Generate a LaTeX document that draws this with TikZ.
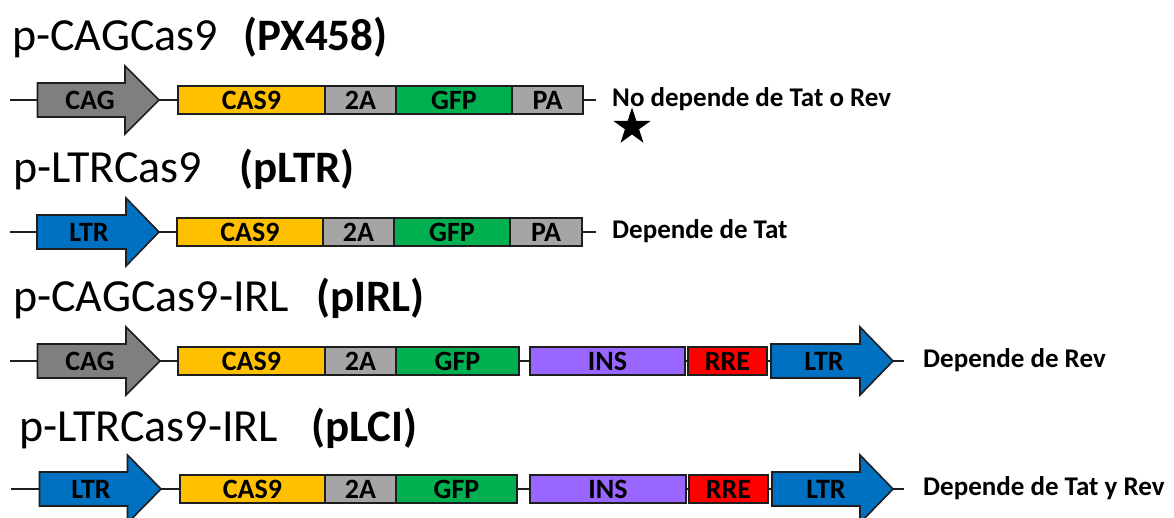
\documentclass[tikz,border=0pt]{standalone}
\usepackage{fontspec}
\setmainfont{Carlito}
\usetikzlibrary{shapes.geometric}

\definecolor{cagGray}{HTML}{7F7F7F}
\definecolor{partGray}{HTML}{A5A5A5}
\definecolor{casGold}{HTML}{FFC000}
\definecolor{gfpGreen}{HTML}{00B050}
\definecolor{insPurple}{HTML}{9966FF}
\definecolor{rreRed}{HTML}{FF0000}
\definecolor{ltrBlue}{HTML}{0070C0}
\definecolor{edge}{HTML}{1E1E1E}

% promoter arrow: name, left x, head x, tip x, axis y, fill
\newcommand\geneArrow[6]{%
  \draw[partline, fill=#6] (#2,#5-17) -- (#3,#5-17) -- (#3,#5-34) -- (#4,#5)
    -- (#3,#5+34) -- (#3,#5+17) -- (#2,#5+17) -- cycle;
  \coordinate (#1-w) at (#2,#5);
  \coordinate (#1-e) at (#4,#5);}

\tikzset{
  partline/.style={draw=edge, line width=1.6pt, line join=miter},
  backbone/.style={draw=edge, line width=1.5pt},
  part/.style={partline, rectangle, anchor=west, minimum height=28pt,
    inner sep=0pt, outer sep=0pt, font=\fontsize{28}{30}\selectfont\bfseries},
  plbl/.style={inner sep=0pt, font=\fontsize{28}{30}\selectfont\bfseries},
  title/.style={anchor=base west, inner sep=0pt, font=\fontsize{46}{50}\selectfont},
  tag/.style={anchor=base west, inner sep=0pt, font=\fontsize{45}{48}\selectfont\bfseries},
  note/.style={anchor=base west, inner sep=0pt, font=\fontsize{27}{30}\selectfont\bfseries},
}

\begin{document}
\begin{tikzpicture}[x=1pt, y=-1pt]
\useasboundingbox (0,0) rectangle (1174,518);

% ---------- p-CAGCas9 (PX458) ----------
\node[title] (t1) at (12,51) {p-CAGCas9};
\node[tag] (g1) at (243,51) {(PX458)};
\coordinate (s1) at (10,100);
\coordinate (e1) at (596,100);
\draw[backbone] (s1) -- (37,100);
\draw[backbone] (159,100) -- (178,100);
\draw[backbone] (583,100) -- (e1);
\geneArrow{cag1}{37.5}{125}{159}{100}{cagGray}
\node[plbl] (cagl1) at (90,100) {CAG};
\node[part, fill=casGold, minimum width=147pt] (cas1) at (178,100) {CAS9};
\node[part, fill=partGray, minimum width=71pt] (ta1) at (cas1.east) {2A};
\node[part, fill=gfpGreen, minimum width=116pt] (gfp1) at (ta1.east) {GFP};
\node[part, fill=partGray, minimum width=71pt] (pa1) at (gfp1.east) {PA};
\node[note] (n1) at (612,106.5) {No depende de Tat o Rev};
\node[star, star points=5, star point ratio=2.618, fill=black, draw=none,
  minimum size=39pt, inner sep=0pt] (star) at (632,127) {};

% ---------- p-LTRCas9 (pLTR) ----------
\node[title] (t2) at (13,183) {p-LTRCas9};
\node[tag] (g2) at (239,183) {(pLTR)};
\coordinate (s2) at (10,232);
\coordinate (e2) at (596,232);
\draw[backbone] (s2) -- (37,232);
\draw[backbone] (159,232) -- (178,232);
\draw[backbone] (583,232) -- (e2);
\geneArrow{ltr2}{37}{126}{159}{232}{ltrBlue}
\node[plbl] (ltrl2) at (89,232) {LTR};
\node[part, fill=casGold, minimum width=146pt] (cas2) at (177,232) {CAS9};
\node[part, fill=partGray, minimum width=71pt] (ta2) at (cas2.east) {2A};
\node[part, fill=gfpGreen, minimum width=116pt] (gfp2) at (ta2.east) {GFP};
\node[part, fill=partGray, minimum width=72pt] (pa2) at (gfp2.east) {PA};
\node[note] (n2) at (612,238.5) {Depende de Tat};

% ---------- p-CAGCas9-IRL (pIRL) ----------
\node[title] (t3) at (13,312) {p-CAGCas9-IRL};
\node[tag] (g3) at (316,312) {(pIRL)};
\coordinate (s3) at (10,361);
\coordinate (e3) at (904,361);
\draw[backbone] (s3) -- (37,361);
\draw[backbone] (160,361) -- (178,361);
\draw[backbone] (519,361) -- (530,361);
\draw[backbone] (685,361) -- (688,361);
\draw[backbone] (767,361) -- (771,361);
\draw[backbone] (893,361) -- (e3);
\geneArrow{cag3}{37.5}{126}{160}{361}{cagGray}
\node[plbl] (cagl3) at (90,361) {CAG};
\node[part, fill=casGold, minimum width=147pt] (cas3) at (178,361) {CAS9};
\node[part, fill=partGray, minimum width=71pt] (ta3) at (cas3.east) {2A};
\node[part, fill=gfpGreen, minimum width=123pt] (gfp3) at (ta3.east) {GFP};
\node[part, fill=insPurple, minimum width=155pt] (ins3) at (530,361) {INS};
\node[part, fill=rreRed, minimum width=79pt] (rre3) at (688,361) {RRE};
\geneArrow{ltr3}{771}{860}{893}{361}{ltrBlue}
\node[plbl] (ltrl3) at (824,361) {LTR};
\node[note] (n3) at (923,367.5) {Depende de Rev};

% ---------- p-LTRCas9-IRL (pLCI) ----------
\node[title] (t4) at (19,441) {p-LTRCas9-IRL};
\node[tag] (g4) at (311,441) {(pLCI)};
\coordinate (s4) at (11,489);
\coordinate (e4) at (904,489);
\draw[backbone] (s4) -- (39,489);
\draw[backbone] (161,489) -- (180,489);
\draw[backbone] (517,489) -- (530,489);
\draw[backbone] (686,489) -- (689,489);
\draw[backbone] (768,489) -- (772,489);
\draw[backbone] (893,489) -- (e4);
\geneArrow{ltr4a}{39.5}{127.5}{161}{489}{ltrBlue}
\node[plbl] (ltrl4a) at (91,489) {LTR};
\node[part, fill=casGold, minimum width=145pt] (cas4) at (180,489) {CAS9};
\node[part, fill=partGray, minimum width=71pt] (ta4) at (cas4.east) {2A};
\node[part, fill=gfpGreen, minimum width=121pt] (gfp4) at (ta4.east) {GFP};
\node[part, fill=insPurple, minimum width=156pt] (ins4) at (530,489) {INS};
\node[part, fill=rreRed, minimum width=79pt] (rre4) at (689,489) {RRE};
\geneArrow{ltr4b}{772}{860}{893}{489}{ltrBlue}
\node[plbl] (ltrl4b) at (826,489) {LTR};
\node[note] (n4) at (923,495.5) {Depende de Tat y Rev};
\end{tikzpicture}
\end{document}
